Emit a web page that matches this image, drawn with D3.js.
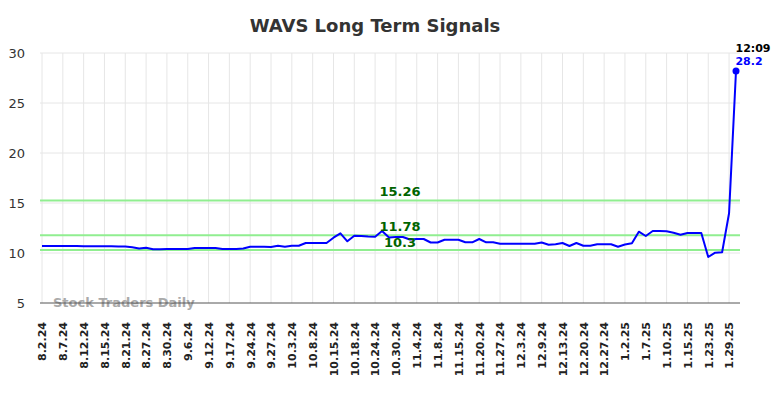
<!DOCTYPE html>
<html>
<head>
<meta charset="utf-8">
<script src="https://cdn.jsdelivr.net/npm/d3@7"></script>
<style>
  html, body { margin: 0; padding: 0; background: #fff; }
  svg { display: block; font-family: "DejaVu Sans", sans-serif; }
</style>
</head>
<body>
<svg id="chart" width="784" height="398"></svg>
<script>
const title = "WAVS Long Term Signals";
const tickLabels = ["8.2.24","8.7.24","8.12.24","8.15.24","8.21.24","8.27.24","8.30.24","9.6.24","9.12.24","9.17.24","9.24.24","9.27.24","10.3.24","10.8.24","10.15.24","10.18.24","10.24.24","10.30.24","11.4.24","11.8.24","11.15.24","11.20.24","11.27.24","12.3.24","12.9.24","12.13.24","12.20.24","12.27.24","1.2.25","1.7.25","1.10.25","1.15.25","1.23.25","1.29.25"];
const prices = [
  10.7,10.7,10.7,10.7,10.7,10.7,10.68,10.68,10.68,10.68,
  10.68,10.64,10.64,10.58,10.45,10.52,10.37,10.37,10.4,10.4,
  10.4,10.4,10.5,10.5,10.5,10.5,10.4,10.4,10.4,10.45,
  10.63,10.63,10.63,10.6,10.73,10.63,10.73,10.73,11.0,11.0,
  11.0,11.0,11.53,11.97,11.17,11.73,11.7,11.65,11.63,12.2,
  11.55,11.6,11.6,11.35,11.4,11.4,11.05,11.05,11.33,11.33,
  11.33,11.07,11.07,11.4,11.07,11.07,10.93,10.93,10.93,10.93,
  10.93,10.93,11.05,10.83,10.88,11.0,10.7,11.0,10.73,10.73,
  10.87,10.87,10.87,10.63,10.85,10.97,12.13,11.7,12.2,12.2,
  12.17,12.03,11.83,12.0,12.0,12.0,9.6,10.03,10.07,13.97,
  28.2
];
const tickEvery = 3;
const yTicks = [5,10,15,20,25,30];
const signalLevels = [15.26, 11.78, 10.3];
const signalLabels = ["15.26", "11.78", "10.3"];
const lastTime = "12:09";
const lastLabel = "28.2";
const watermark = "Stock Traders Daily";

const svg = d3.select("#chart");
const plotLeft = 40, plotRight = 740, plotTop = 53, plotBottom = 303;

const x = d3.scaleLinear().domain([0, prices.length - 1]).range([42, 736]);
const y = d3.scaleLinear().domain([5, 30]).range([plotBottom, plotTop]);

// title
svg.append("text")
  .attr("x", 375).attr("y", 32)
  .attr("text-anchor", "middle")
  .attr("font-size", 18).attr("font-weight", "bold")
  .attr("fill", "#333")
  .text(title);

// horizontal grid
svg.append("g").selectAll("line").data(yTicks.filter(d => d > 5)).join("line")
  .attr("x1", plotLeft).attr("x2", plotRight)
  .attr("y1", d => y(d)).attr("y2", d => y(d))
  .attr("stroke", "#e6e6e6").attr("stroke-width", 1);

// vertical grid
const tickIdx = tickLabels.map((_, i) => i * tickEvery);
svg.append("g").selectAll("line").data(tickIdx).join("line")
  .attr("x1", d => x(d)).attr("x2", d => x(d))
  .attr("y1", plotTop).attr("y2", plotBottom)
  .attr("stroke", "#e6e6e6").attr("stroke-width", 1);

// y axis labels
const yAxis = d3.axisLeft(y).tickValues(yTicks).tickSize(0).tickPadding(0);
const gy = svg.append("g").attr("transform", "translate(25,0)").call(yAxis);
gy.select(".domain").remove();
gy.selectAll("text").attr("font-size", 13).attr("fill", "#333")
  .attr("font-family", "DejaVu Sans, sans-serif");

// x axis labels
const xAxis = d3.axisBottom(x).tickValues(tickIdx).tickFormat((d, i) => tickLabels[i]).tickSize(0);
const gx = svg.append("g").attr("transform", `translate(0,${plotBottom})`).call(xAxis);
gx.select(".domain").remove();
gx.selectAll("text")
  .attr("font-size", 11).attr("font-weight", "bold").attr("fill", "#222")
  .attr("font-family", "DejaVu Sans, sans-serif")
  .attr("text-anchor", "end")
  .attr("transform", "rotate(-90)")
  .attr("x", -19).attr("y", 0).attr("dy", "0.35em");

// watermark
svg.append("text")
  .attr("x", 53).attr("y", 307)
  .attr("font-size", 13).attr("font-weight", "bold")
  .attr("fill", "#aaa")
  .text(watermark);

// bottom axis line
svg.append("line")
  .attr("x1", plotLeft).attr("x2", plotRight)
  .attr("y1", plotBottom).attr("y2", plotBottom)
  .attr("stroke", "#555").attr("stroke-width", 1);

// signal lines
svg.append("g").selectAll("line").data(signalLevels).join("line")
  .attr("x1", plotLeft).attr("x2", plotRight)
  .attr("y1", d => y(d)).attr("y2", d => y(d))
  .attr("stroke", "#90ee90").attr("stroke-width", 2);

// price line
const line = d3.line().x((d, i) => x(i)).y(d => y(d));
svg.append("path").datum(prices)
  .attr("d", line)
  .attr("fill", "none").attr("stroke", "#0000ff").attr("stroke-width", 2)
  .attr("stroke-linejoin", "round");

// signal labels
const labelOffsets = [-4, -4, 11];
svg.append("g").selectAll("text").data(signalLevels).join("text")
  .attr("x", 400)
  .attr("y", (d, i) => y(d) + labelOffsets[i] - (i === 2 ? 14 : 0))
  .attr("text-anchor", "middle")
  .attr("font-size", 13).attr("font-weight", "bold")
  .attr("fill", "#006400")
  .text((d, i) => signalLabels[i]);

// last point
const lastI = prices.length - 1;
svg.append("circle")
  .attr("cx", x(lastI)).attr("cy", y(prices[lastI]))
  .attr("r", 3.5).attr("fill", "#0000ff");
svg.append("text")
  .attr("x", 753).attr("y", 52)
  .attr("text-anchor", "middle")
  .attr("font-size", 11).attr("font-weight", "bold").attr("fill", "#000")
  .text(lastTime);
svg.append("text")
  .attr("x", 749).attr("y", 65)
  .attr("text-anchor", "middle")
  .attr("font-size", 11).attr("font-weight", "bold").attr("fill", "#0000ff")
  .text(lastLabel);
</script>
</body>
</html>
